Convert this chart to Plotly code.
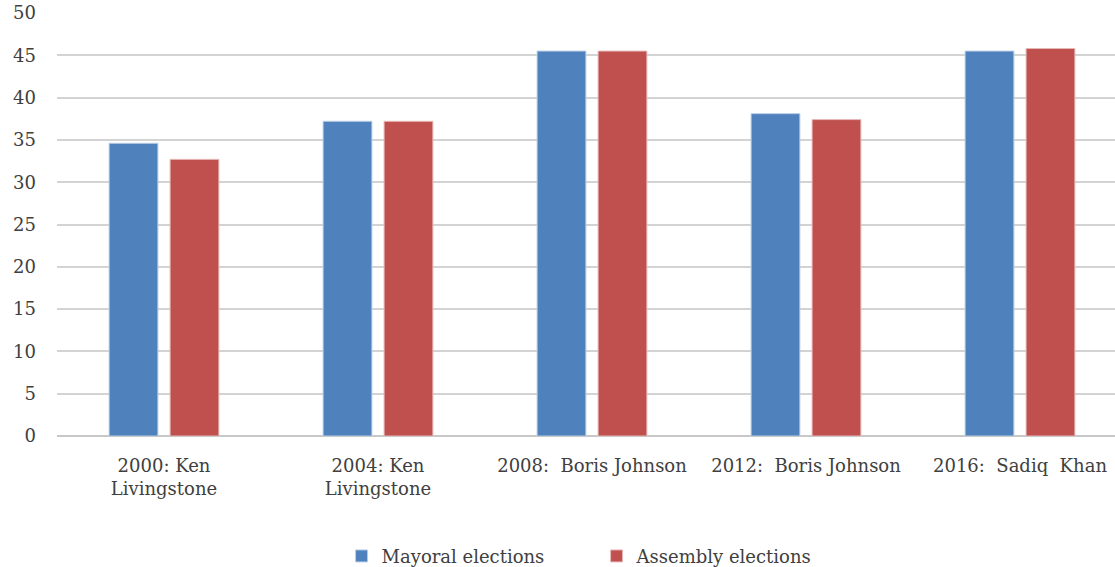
import plotly.graph_objects as go

categories = ["2000: Ken<br>Livingstone", "2004: Ken<br>Livingstone", "2008:  Boris Johnson",
              "2012:  Boris Johnson", "2016:  Sadiq  Khan"]
mayoral = [34.6, 37.2, 45.5, 38.1, 45.5]
assembly = [32.7, 37.2, 45.5, 37.4, 45.8]
y_ticks = [0, 5, 10, 15, 20, 25, 30, 35, 40, 45, 50]

font_family = "DejaVu Serif"

fig = go.Figure()
fig.add_trace(go.Bar(x=categories, y=mayoral, name="Mayoral elections",
                     marker=dict(color="#4F81BD", line=dict(color="#B9CDE5", width=1))))
fig.add_trace(go.Bar(x=categories, y=assembly, name="Assembly elections",
                     marker=dict(color="#C0504D", line=dict(color="#E6B9B8", width=1))))

fig.update_layout(
    width=1115, height=567,
    margin=dict(l=57, r=0, t=13, b=131, autoexpand=False),
    plot_bgcolor="white", paper_bgcolor="white",
    barmode="group", bargap=0.43, bargroupgap=0.2,
    font=dict(family=font_family, size=18, color="#404040"),
    showlegend=True,
    legend=dict(orientation="h", x=0.51, xanchor="center", yref="container",
                y=0.019, yanchor="middle", entrywidth=210,
                font=dict(size=18, color="#404040"), itemwidth=30, tracegroupgap=0),
    xaxis=dict(range=[-0.5, 4.444], showgrid=False, showline=False, ticks="",
               tickfont=dict(size=18), ticklabelstandoff=17),
    yaxis=dict(range=[0, 50], tickvals=y_ticks, showgrid=True, gridcolor="#D3D3D3",
               gridwidth=2, zeroline=True, zerolinecolor="#C8C8C8", zerolinewidth=2,
               showline=False, ticks="", tickfont=dict(size=18), ticklabelstandoff=20),
)

fig.write_html("out.html")
